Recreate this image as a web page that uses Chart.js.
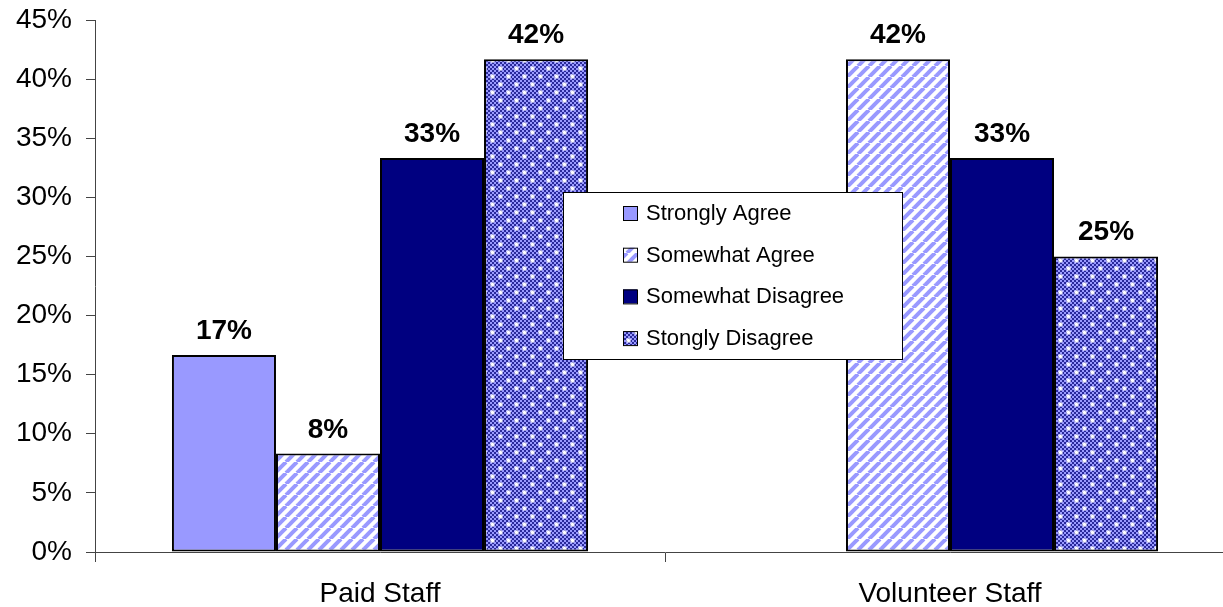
<!DOCTYPE html>
<html>
<head>
<meta charset="utf-8">
<script src="https://cdn.jsdelivr.net/npm/chart.js@4"></script>
<style>
    body { margin: 0; background: #fff; overflow: hidden; }
    #chart { display: block; }
</style>
</head>
<body>
<canvas id="chart" width="1240" height="607"></canvas>
<script>
// Data
const categories = ['Paid Staff', 'Volunteer Staff'];
const seriesNames = ['Strongly Agree', 'Somewhat Agree', 'Somewhat Disagree', 'Stongly Disagree'];
const stronglyAgree = [16.67, null];
const somewhatAgree = [8.33, 41.67];
const somewhatDisagree = [33.33, 33.33];
const stronglyDisagree = [41.67, 25];
const yMax = 45;
const yStep = 5;

const FONT = "'Liberation Sans', Arial, sans-serif";
const LAVENDER = '#9999FF';
const NAVY = '#000080';

function stripePattern() {
    const n = 11;
    const c = document.createElement('canvas');
    c.width = n; c.height = n;
    const g = c.getContext('2d');
    g.fillStyle = '#fff';
    g.fillRect(0, 0, n, n);
    g.strokeStyle = LAVENDER;
    g.lineWidth = 4;
    for (let k = -n; k <= n; k += n) {
        g.beginPath();
        g.moveTo(k, n);
        g.lineTo(k + n, 0);
        g.stroke();
    }
    return g.createPattern(c, 'repeat');
}

function dotPattern() {
    const c = document.createElement('canvas');
    c.width = 16; c.height = 16;
    const g = c.getContext('2d');
    for (let y = 0; y < 16; y++) {
        for (let x = 0; x < 16; x++) {
            g.fillStyle = (Math.floor(x / 2) + Math.floor(y / 2)) % 2 ? '#2a2a9a' : LAVENDER;
            g.fillRect(x, y, 1, 1);
        }
    }
    const stars = [[4, 4], [12, 12]];
    g.fillStyle = 'rgba(255,255,255,0.55)';
    stars.forEach(([x, y]) => {
        g.fillRect(x - 2, y - 1, 5, 3);
        g.fillRect(x - 1, y - 2, 3, 5);
    });
    g.fillStyle = '#fff';
    stars.forEach(([x, y]) => {
        g.fillRect(x - 1, y, 3, 1);
        g.fillRect(x, y - 1, 1, 3);
    });
    return g.createPattern(c, 'repeat');
}

const fills = [LAVENDER, stripePattern(), NAVY, dotPattern()];
const seriesData = [stronglyAgree, somewhatAgree, somewhatDisagree, stronglyDisagree];

// value labels above bars
const valueLabels = {
    id: 'valueLabels',
    afterDatasetsDraw(chart) {
        const ctx = chart.ctx;
        ctx.save();
        ctx.font = `bold 28px ${FONT}`;
        ctx.fillStyle = '#000';
        ctx.textAlign = 'center';
        ctx.textBaseline = 'alphabetic';
        chart.data.datasets.forEach((ds, i) => {
            chart.getDatasetMeta(i).data.forEach((bar, j) => {
                const v = ds.data[j];
                if (v === null) return;
                ctx.fillText(Math.round(v) + '%', bar.x, bar.y - 16);
            });
        });
        ctx.restore();
    }
};

// legend box sitting inside the plot
const boxLegend = {
    id: 'boxLegend',
    afterDraw(chart) {
        const ctx = chart.ctx;
        ctx.save();
        ctx.fillStyle = '#fff';
        ctx.fillRect(563, 192, 339, 167);
        ctx.strokeStyle = '#000';
        ctx.lineWidth = 1;
        ctx.strokeRect(563.5, 192.5, 339, 167);
        ctx.font = `22px ${FONT}`;
        ctx.textBaseline = 'middle';
        ctx.textAlign = 'left';
        seriesNames.forEach((name, i) => {
            const cy = 213 + i * 41.7;
            ctx.fillStyle = fills[i];
            ctx.fillRect(623, cy - 7, 14, 14);
            ctx.strokeStyle = '#000';
            ctx.strokeRect(623.5, cy - 6.5, 14, 14);
            ctx.fillStyle = '#000';
            ctx.fillText(name, 646, cy + 1);
        });
        ctx.restore();
    }
};

const ctx = document.getElementById('chart').getContext('2d');
new Chart(ctx, {
    type: 'bar',
    data: {
        labels: categories,
        datasets: seriesNames.map((name, i) => ({
            label: name,
            data: seriesData[i],
            backgroundColor: fills[i],
            borderColor: '#000',
            borderWidth: 2,
            borderSkipped: false,
            barPercentage: 1,
            categoryPercentage: 0.73
        }))
    },
    options: {
        responsive: false,
        animation: false,
        layout: { padding: { top: 20, right: 5, left: 0, bottom: 0 } },
        plugins: {
            legend: { display: false },
            tooltip: { enabled: false }
        },
        scales: {
            x: {
                grid: { drawOnChartArea: false, tickLength: 10, color: '#444', offset: true },
                border: { color: '#444', width: 1 },
                ticks: { color: '#000', font: { family: FONT, size: 28 }, padding: 15 },
                afterFit(scale) { scale.height = 55; }
            },
            y: {
                min: 0,
                max: yMax,
                grid: { drawOnChartArea: false, tickLength: 9, color: '#444' },
                border: { color: '#444', width: 1 },
                ticks: {
                    stepSize: yStep,
                    color: '#000',
                    padding: 14,
                    font: { family: FONT, size: 28 },
                    callback: value => value + '%'
                },
                afterFit(scale) {
                    scale.width = 95;
                    scale.paddingTop = 0;
                    scale.paddingBottom = 0;
                }
            }
        }
    },
    plugins: [valueLabels, boxLegend]
});
</script>
</body>
</html>
